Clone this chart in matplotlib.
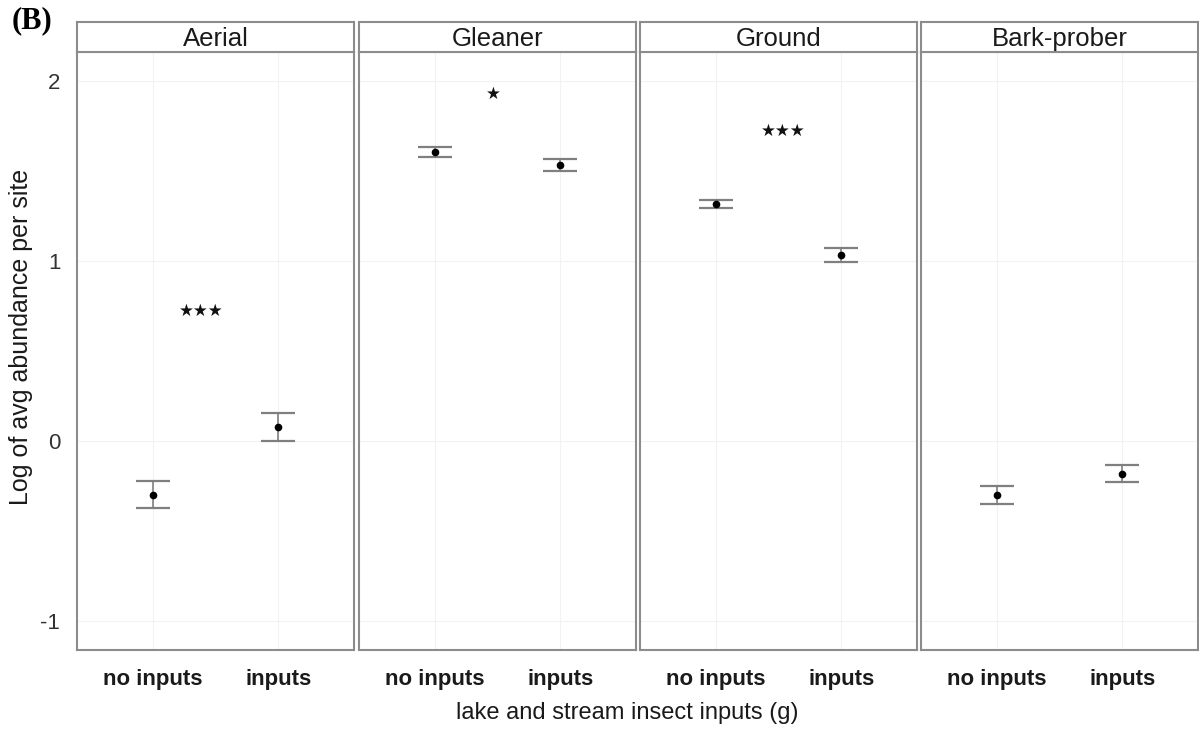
import numpy as np
import matplotlib.pyplot as plt

plt.rcParams['font.family'] = ['Liberation Sans', 'DejaVu Sans']

# facets and groups
guilds = ['Aerial', 'Gleaner', 'Ground', 'Bark-prober']
groups = ['no inputs', 'inputs']

# log of average abundance per site (mean, lower, upper)
means = [[-0.30, 0.078], [1.605, 1.533], [1.317, 1.033], [-0.30, -0.183]]
lower = [[-0.37, 0.0], [1.578, 1.498], [1.295, 0.995], [-0.35, -0.23]]
upper = [[-0.22, 0.155], [1.632, 1.568], [1.34, 1.07], [-0.25, -0.135]]

# significance stars: count, x and y position in data units
sig_n = [3, 1, 3, 0]
sig_x = [1.39, 1.47, 1.54, 1.5]
sig_y = [0.72, 1.93, 1.72, 0]

fig = plt.figure(figsize=(11.99, 7.33), dpi=100)
W, H = 1199, 733
lefts = [77, 359, 640, 921]
pw = 277
top, bot, strip_top = 52, 650, 22
edge = '#8c8c8c'

x = np.array([1, 2])
for k, g in enumerate(guilds):
    ax = fig.add_axes([lefts[k] / W, 1 - bot / H, pw / W, (bot - top) / H])
    m = np.array(means[k])
    lo = m - np.array(lower[k])
    hi = np.array(upper[k]) - m
    ax.errorbar(x, m, yerr=[lo, hi], fmt='none', ecolor='#7f7f7f', elinewidth=1.2,
                capsize=12, capthick=1.6)
    ax.plot(x, m, 'o', color='black', ms=4.5, zorder=3)
    if sig_n[k]:
        ax.text(sig_x[k], sig_y[k], '\u2605' * sig_n[k], ha='center', va='center',
                fontsize=12, family='DejaVu Sans', color='#111111')
    ax.set_xlim(0.4, 2.6)
    ax.set_ylim(-1.16, 2.16)
    ax.set_xticks(x)
    ax.set_xticklabels(groups, fontsize=16, fontweight='bold', color='#1a1a1a')
    ax.set_yticks([-1, 0, 1, 2])
    ax.grid(True, color='#f2f2f2', lw=0.8)
    ax.set_axisbelow(True)
    ax.tick_params(length=0, pad=14)
    if k == 0:
        ax.set_yticklabels(['-1', '0', '1', '2'], fontsize=16, color='#333333')
        ax.tick_params(axis='y', pad=12)
    else:
        ax.set_yticklabels([])
    for s in ax.spines.values():
        s.set_color(edge)
        s.set_linewidth(1.5)

    sax = fig.add_axes([lefts[k] / W, 1 - top / H, pw / W, (top - strip_top) / H])
    sax.set_xticks([])
    sax.set_yticks([])
    for s in sax.spines.values():
        s.set_color(edge)
        s.set_linewidth(1.5)
    sax.text(0.5, 0.42, g, ha='center', va='center', fontsize=18.5,
             color='#1a1a1a', transform=sax.transAxes)

fig.text(627 / W, 1 - 713 / H, 'lake and stream insect inputs (g)',
         ha='center', va='center', fontsize=17, color='#1a1a1a')
fig.text(21 / W, 1 - 337 / H, 'Log of avg abundance per site', rotation=90,
         ha='center', va='center', fontsize=18, color='#1a1a1a')
fig.text(12 / W, 1 - 21 / H, '(B)', fontsize=22, fontweight='bold',
         family='Liberation Serif', ha='left', va='center')

fig.savefig('out.png', dpi=100)
